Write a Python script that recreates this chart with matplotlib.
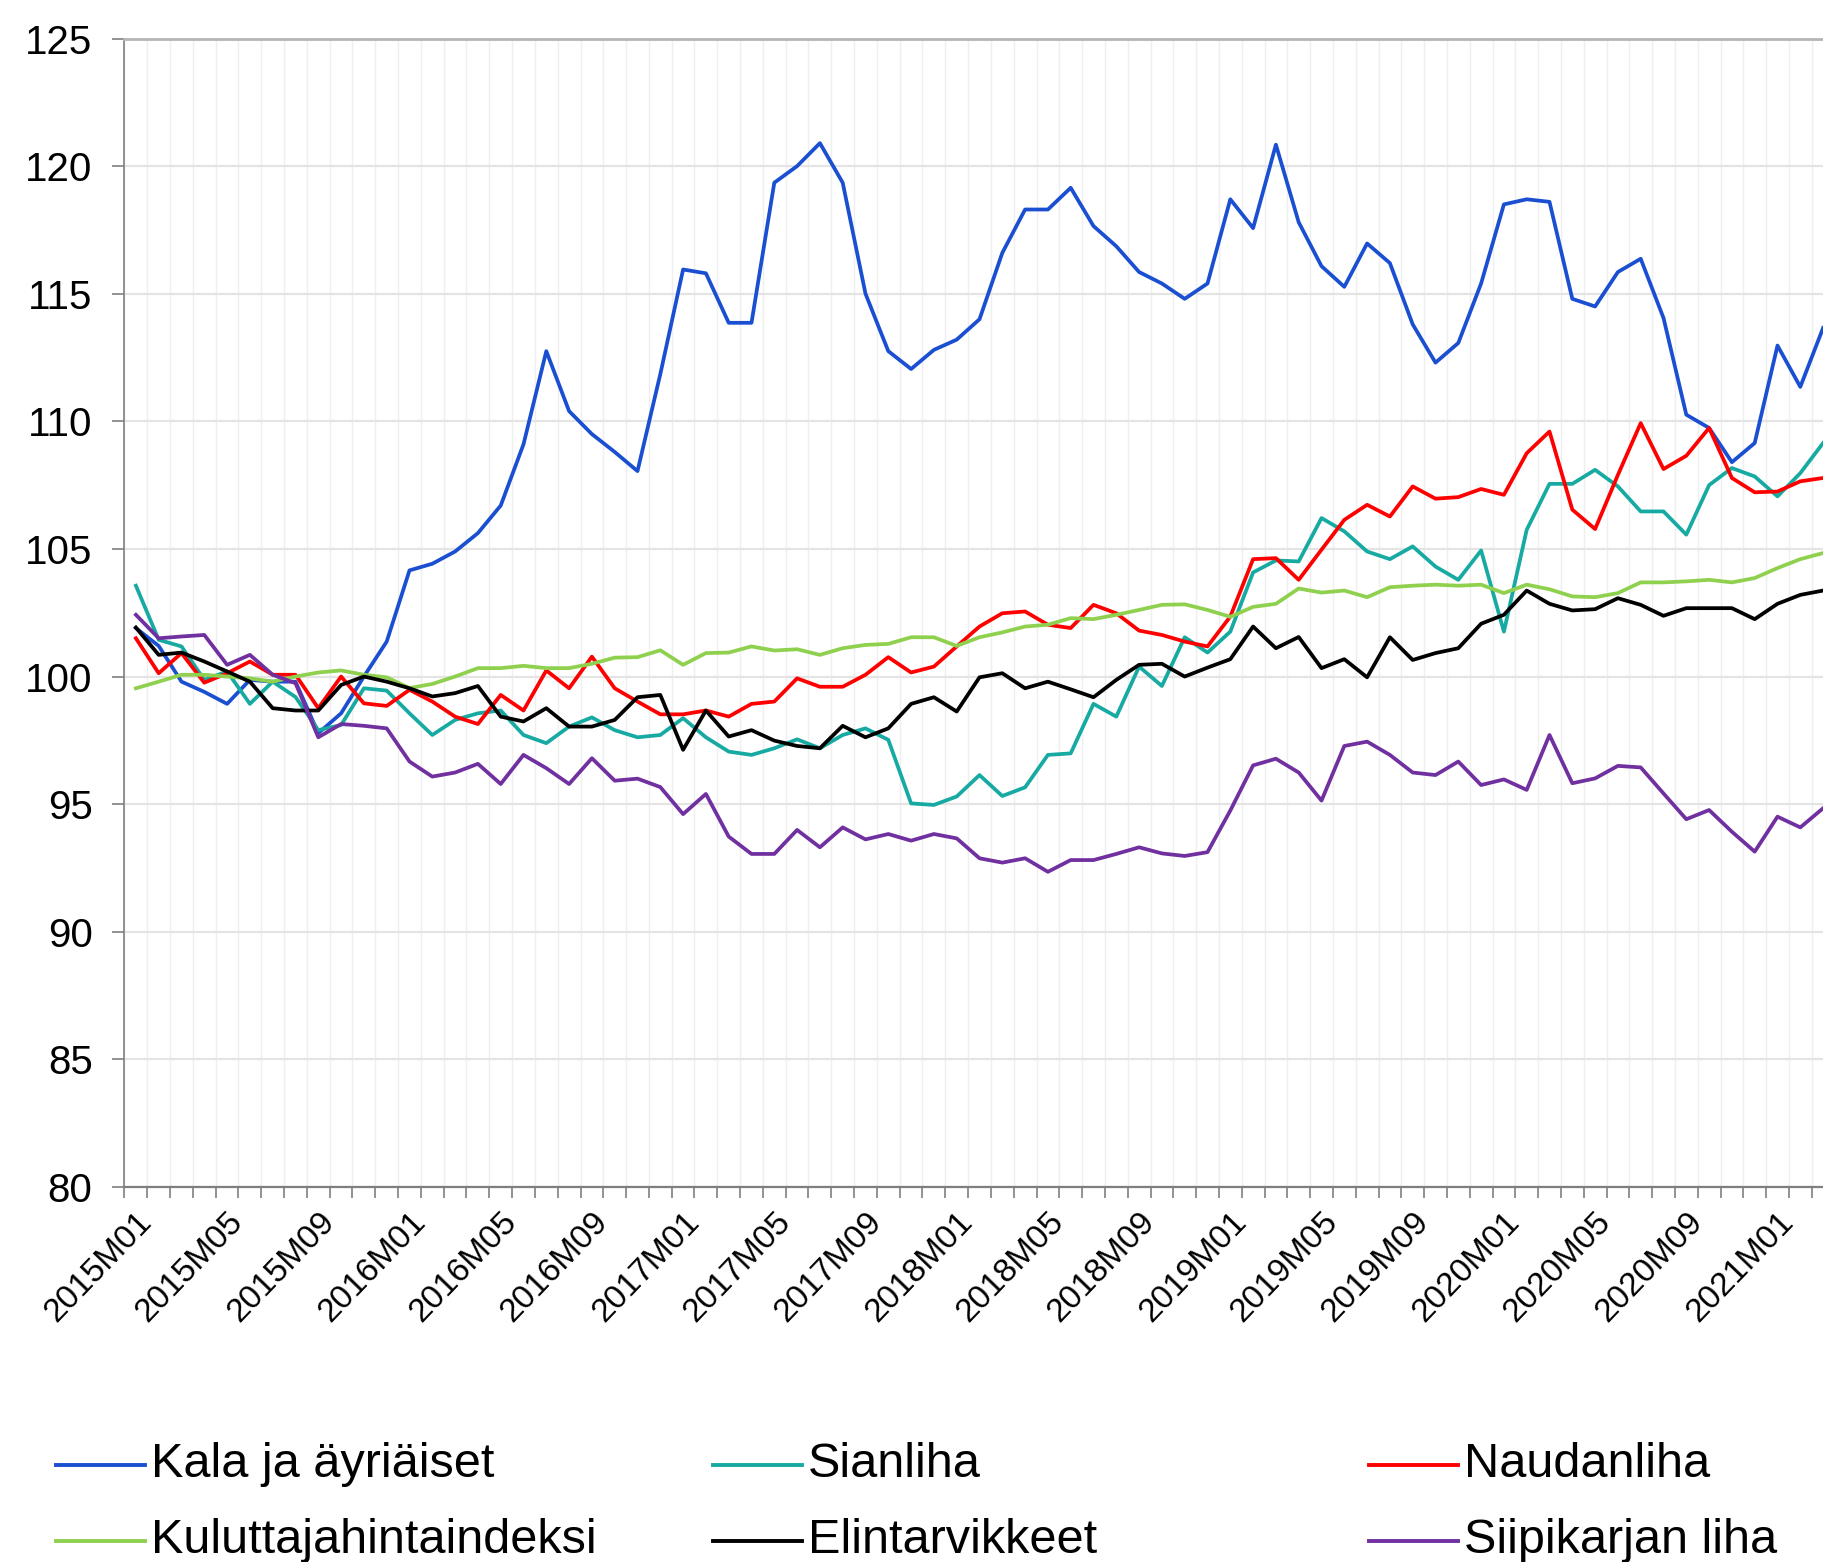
import numpy as np
import matplotlib
matplotlib.use("Agg")
import matplotlib.pyplot as plt
import matplotlib.transforms as mtransforms
from matplotlib.lines import Line2D
from matplotlib.ticker import FixedLocator

plt.rcParams['font.family'] = ['Liberation Sans', 'DejaVu Sans']

# months 2015M01 .. 2021M03 (the right edge of the picture cuts the chart there)
months = [f"{2015 + k // 12}M{k % 12 + 1:02d}" for k in range(75)]

kala = [101.9, 101.2, 99.8, 99.4, 98.93, 99.87, 99.8, 99.8, 97.78, 98.56,
        100.0, 101.37, 104.16, 104.42, 104.9, 105.62, 106.7, 109.1, 112.75, 110.4,
        109.5, 108.8, 108.05, 111.85, 115.95, 115.8, 113.86, 113.86, 119.35, 120.0,
        120.9, 119.35, 115.0, 112.75, 112.05, 112.8, 113.2, 114.0, 116.6, 118.3,
        118.3, 119.15, 117.65, 116.86, 115.85, 115.4, 114.8, 115.4, 118.7, 117.57,
        120.84, 117.8, 116.08, 115.27, 116.97, 116.2, 113.8, 112.3, 113.07, 115.4,
        118.5, 118.7, 118.6, 114.8, 114.5, 115.85, 116.37, 114.05, 110.26, 109.74,
        108.4, 109.15, 112.97, 111.35, 113.66]

sianliha = [103.56, 101.44, 101.18, 99.87, 100.2, 98.93, 99.8, 99.2, 97.9, 98.1,
            99.54, 99.45, 98.56, 97.71, 98.3, 98.56, 98.67, 97.71, 97.39, 98.04,
            98.4, 97.9, 97.62, 97.71, 98.37, 97.62, 97.06, 96.93, 97.19, 97.54,
            97.19, 97.71, 97.97, 97.52, 95.03, 94.97, 95.3, 96.14, 95.32, 95.66,
            96.93, 96.99, 98.93, 98.43, 100.39, 99.63, 101.54, 100.94, 101.76, 104.08,
            104.55, 104.51, 106.21, 105.69, 104.9, 104.6, 105.1, 104.31, 103.79, 104.94,
            101.76, 105.75, 107.55, 107.55, 108.1, 107.45, 106.47, 106.47, 105.56, 107.5,
            108.17, 107.84, 107.06, 107.97, 109.15]

naudanliha = [101.5, 100.13, 100.92, 99.76, 100.13, 100.59, 100.07, 100.07, 98.76, 100.0,
              98.95, 98.85, 99.48, 99.02, 98.43, 98.14, 99.28, 98.67, 100.24, 99.54,
              100.78, 99.54, 99.02, 98.52, 98.52, 98.67, 98.43, 98.93, 99.02, 99.93,
              99.6, 99.6, 100.07, 100.76, 100.16, 100.39, 101.18, 101.96, 102.48, 102.55,
              102.03, 101.9, 102.81, 102.48, 101.8, 101.63, 101.37, 101.18, 102.35, 104.6,
              104.64, 103.79, 104.97, 106.14, 106.73, 106.27, 107.45, 106.97, 107.03, 107.35,
              107.12, 108.75, 109.6, 106.54, 105.78, 107.9, 109.93, 108.13, 108.65, 109.74,
              107.78, 107.22, 107.25, 107.65, 107.78]

khi = [99.54, 99.8, 100.07, 100.07, 100.0, 99.93, 99.8, 100.0, 100.16, 100.24,
       100.07, 99.97, 99.55, 99.71, 100.0, 100.33, 100.33, 100.42, 100.33, 100.33,
       100.5, 100.74, 100.76, 101.03, 100.46, 100.92, 100.94, 101.18, 101.02, 101.07,
       100.85, 101.11, 101.24, 101.28, 101.54, 101.54, 101.2, 101.54, 101.73, 101.96,
       102.03, 102.29, 102.25, 102.42, 102.61, 102.81, 102.83, 102.61, 102.34, 102.73,
       102.85, 103.45, 103.29, 103.37, 103.11, 103.5, 103.56, 103.6, 103.56, 103.6,
       103.27, 103.6, 103.42, 103.14, 103.11, 103.27, 103.69, 103.69, 103.73, 103.79,
       103.69, 103.86, 104.25, 104.6, 104.84]

elintarvikkeet = [101.92, 100.85, 100.94, 100.59, 100.2, 99.8, 98.76, 98.67, 98.67, 99.67,
                  100.0, 99.8, 99.54, 99.22, 99.35, 99.63, 98.43, 98.24, 98.76, 98.04,
                  98.04, 98.3, 99.19, 99.28, 97.13, 98.67, 97.65, 97.9, 97.49, 97.28,
                  97.19, 98.07, 97.62, 97.97, 98.93, 99.19, 98.63, 99.97, 100.13, 99.54,
                  99.8, 99.5, 99.19, 99.87, 100.46, 100.5, 100.0, 100.35, 100.68, 101.96,
                  101.11, 101.55, 100.33, 100.68, 99.97, 101.54, 100.65, 100.92, 101.11, 102.07,
                  102.42, 103.37, 102.85, 102.59, 102.64, 103.07, 102.81, 102.38, 102.68, 102.68,
                  102.68, 102.25, 102.85, 103.2, 103.37]

siipikarja = [102.42, 101.5, 101.57, 101.63, 100.46, 100.85, 100.07, 99.74, 97.62, 98.14,
              98.07, 97.97, 96.67, 96.08, 96.24, 96.58, 95.79, 96.93, 96.41, 95.79,
              96.8, 95.92, 96.0, 95.67, 94.61, 95.4, 93.73, 93.05, 93.05, 93.99,
              93.31, 94.09, 93.62, 93.83, 93.57, 93.83, 93.66, 92.88, 92.71, 92.88,
              92.35, 92.81, 92.81, 93.05, 93.31, 93.07, 92.97, 93.12, 94.75, 96.52,
              96.78, 96.24, 95.14, 97.28, 97.45, 96.93, 96.24, 96.14, 96.67, 95.75,
              95.97, 95.56, 97.71, 95.82, 96.01, 96.5, 96.44, 95.42, 94.41, 94.77,
              93.92, 93.14, 94.51, 94.09, 94.84]

series = [
    ("Kala ja äyriäiset", kala, "#1a4fd1"),
    ("Sianliha", sianliha, "#17aaa2"),
    ("Naudanliha", naudanliha, "#ff0000"),
    ("Kuluttajahintaindeksi", khi, "#8fd14f"),
    ("Elintarvikkeet", elintarvikkeet, "#000000"),
    ("Siipikarjan liha", siipikarja, "#7030a0"),
]

W, H = 1824, 1562
fig = plt.figure(figsize=(W / 100, H / 100), dpi=100)
# the axes run a little past the right edge, like in the cropped original
ax = fig.add_axes([124.5 / W, 375 / H, 1710 / W, 1148.5 / H])

x = np.arange(len(months))
lines = []
for name, vals, col in series:
    ln, = ax.plot(x, vals, color=col, lw=2.7, label=name)
    lines.append(ln)

ax.set_xlim(-0.5, len(months) - 0.5)
ax.set_ylim(80, 125)
ax.set_yticks(range(80, 126, 5))

# labels every 4th month, tick marks between the months
ax.set_xticks(x[::4])
ax.set_xticklabels(months[::4], rotation=46, ha='right', va='top',
                   rotation_mode='anchor', fontsize=24)
shift = mtransforms.ScaledTranslation(-12 / 100, 0, fig.dpi_scale_trans)
for lab in ax.get_xticklabels():
    lab.set_transform(lab.get_transform() + shift)
ax.xaxis.set_minor_locator(FixedLocator(np.arange(-0.5, len(months), 1)))
ax.tick_params(axis='x', which='major', length=0, pad=14)
ax.tick_params(axis='x', which='minor', length=8, width=1.2, color='#7f7f7f')
ax.tick_params(axis='y', length=9, width=1.2, color='#7f7f7f', pad=14, labelsize=29)

ax.grid(axis='x', which='minor', color='#efefef', lw=1.0)
ax.grid(axis='y', which='major', color='#e4e4e4', lw=1.6)
ax.set_axisbelow(True)

ax.spines['right'].set_visible(False)
ax.spines['top'].set_color('#b5b5b5')
ax.spines['top'].set_linewidth(2)
ax.spines['left'].set_color('#7f7f7f')
ax.spines['left'].set_linewidth(1.2)
ax.spines['bottom'].set_color('#7f7f7f')
ax.spines['bottom'].set_linewidth(1.6)

# legend laid out by hand: 3 columns, 2 rows
col_x = [56, 713, 1369]
row_y = [1465, 1541]
for k, ln in enumerate(lines):
    r, c = divmod(k, 3)
    x0 = col_x[c]
    yy = 1 - row_y[r] / H
    fig.add_artist(Line2D([x0 / W, (x0 + 89) / W], [yy, yy], transform=fig.transFigure,
                          color=ln.get_color(), lw=2.8))
    fig.text((x0 + 95) / W, 1 - (row_y[r] + 12) / H, ln.get_label(), fontsize=35,
             ha='left', va='baseline')

fig.savefig("out.png", dpi=100)
